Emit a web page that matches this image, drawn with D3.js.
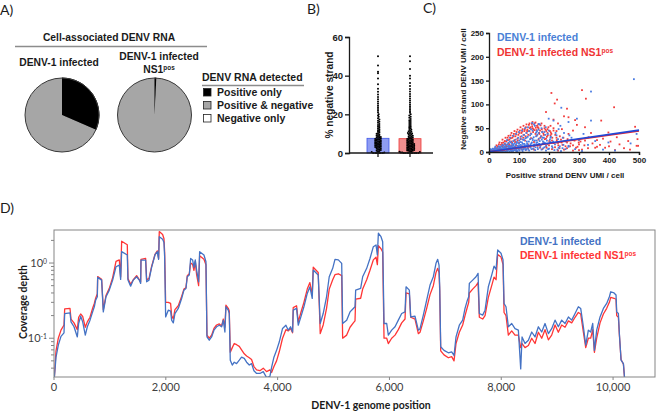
<!DOCTYPE html>
<html>
<head>
<meta charset="utf-8">
<script src="https://d3js.org/d3.v7.min.js"></script>
<style>
  body { margin: 0; background: #fff; }
  svg { display: block; font-family: "Liberation Sans", Arial, sans-serif; }
  .bold { font-weight: bold; }
  .cal { font-family: Lato, "Open Sans", sans-serif; }
</style>
</head>
<body>
<div class="fig"></div>
<script>
// ---------- data ----------
// A) share of cells by DENV RNA detected (%)
const rnaClasses = ["Positive only", "Positive & negative", "Negative only"];
const pieInfected = [31.5, 68.5, 0];
const pieNS1 = [0.8, 99.2, 0];

// B) % negative strand per cell
const barMeans = [7.6, 7.4];
const pctNegInfected = [0, 0, 0, 0, 0, 0, 0, 0.3, 0.5, 0.8, 1, 1.2, 1.5, 1.7, 2, 2.2, 2.4, 2.6, 2.8, 3, 3.1, 3.3, 3.5, 3.6, 3.8, 4, 4.1, 4.3, 4.5, 4.6, 4.8, 5,
  5.1, 5.3, 5.4, 5.6, 5.8, 5.9, 6.1, 6.3, 6.4, 6.6, 6.8, 7, 7.1, 7.3, 7.5, 7.7, 7.9, 8.1, 8.3, 8.5, 8.8, 9, 9.3, 9.6, 9.9,
  10.2, 10.6, 11, 11.4, 11.8, 12.2, 12.7, 13.1, 13.6, 14, 14.5, 15, 15.6, 16.1, 16.7, 17.3, 18, 18.7, 19.4,
  20.1, 21, 21.8, 22.7, 23.6, 24.6, 25.6, 26.7, 27.8, 29, 30.3, 31.7, 33.2, 35.5, 38.5, 41.2, 42, 45.3, 50];
const pctNegNS1 = [0, 0, 0, 0, 0, 0, 0, 0, 0, 0, 0.2, 0.3, 0.5, 0.6, 0.8, 0.9, 1.1, 1.2, 1.3, 1.5, 1.6, 1.7, 1.9, 2, 2.1, 2.3, 2.4, 2.5, 2.7, 2.8, 2.9,
  3.1, 3.2, 3.3, 3.5, 3.6, 3.8, 3.9, 4, 4.2, 4.3, 4.5, 4.6, 4.7, 4.9,
  5, 5.2, 5.3, 5.5, 5.7, 5.8, 6, 6.2, 6.3, 6.5, 6.7, 6.9, 7, 7.2, 7.4, 7.6, 7.8, 8, 8.2, 8.4, 8.6, 8.9, 9.1, 9.4, 9.7, 9.9,
  10.1, 10.4, 10.7, 11, 11.3, 11.7, 12, 12.4, 12.8, 13.2, 13.6, 14, 14.5, 15, 15.5, 16, 16.5, 17, 17.6, 18.2, 18.8, 19.4,
  20, 20.8, 21.6, 22.4, 23.3, 24.2, 25.1, 26.1, 27.1, 28.2, 29.3, 30.5, 31.8, 33.1, 34.6, 36.2, 38.5, 40, 43.5, 47.5, 50];

// C) positive vs negative strand UMI per cell
const umiInfected = [[2,0],[4,1],[6,0],[8,2],[10,1],[12,0],[14,3],[16,1],[18,2],[20,4],[22,0],[24,2],[26,5],[28,1],[30,3],[32,6],[34,2],[36,0],[38,4],[40,7],
  [42,2],[44,5],[46,1],[48,8],[50,3],[52,6],[54,0],[56,9],[58,4],[60,2],[62,7],[64,11],[66,5],[68,1],[70,8],[72,3],[74,12],[76,6],[78,10],[80,2],
  [82,14],[84,7],[86,4],[88,11],[90,16],[92,1],[94,9],[96,13],[98,5],[100,18],[102,3],[104,10],[106,15],[108,7],[110,20],[112,2],[114,12],[116,6],
  [118,17],[120,9],[122,4],[124,14],[126,22],[128,8],[130,11],[134,3],[138,16],[142,6],[146,25],[150,12],[154,4],[158,19],[162,9],[166,28],[170,14],
  [175,5],[180,22],[185,10],[190,3],[195,17],[200,7],[205,30],[210,12],[218,4],[225,20],[232,9],[240,2],[248,15],[255,6],[265,11],
  [5,3],[9,5],[13,2],[17,6],[21,8],[25,3],[29,9],[33,4],[37,10],[41,12],[45,9],[49,13],[53,11],[57,14],[61,16],[65,19],[69,13],[73,20],[77,17],
  [81,23],[85,18],[89,26],[93,21],[97,30],[101,24],[105,28],[109,33],[113,26],[117,36],[121,29],[125,40],[129,32],[133,44],[137,27],[141,38],
  [145,45],[149,31],[153,55],[157,41],[161,36],[165,47],[169,58],[173,33],[177,42],[183,30],[189,52],[196,38],[203,26],
  [3,1],[7,2],[11,3],[15,0],[19,5],[23,1],[27,4],[31,0],[35,7],[39,2],[43,6],[47,3],[51,9],[55,1],[59,7],[63,3],[67,10],[71,5],[75,2],[79,13],
  [83,4],[87,9],[91,6],[95,2],[99,11],[103,7],[107,12],[111,4],[115,9],[119,14],[123,6],[127,18],[131,5],[135,13],[139,9],[143,20],[147,7],
  [151,16],[155,10],[159,24],[163,6],[167,17],[171,11],[176,26],[181,8],[186,19],[191,13],[197,6],[204,21],[212,9],[220,16],[228,5],[236,12],[245,8],
  [5,6],[9,1],[13,7],[17,3],[21,11],[25,6],[29,2],[33,12],[37,7],[41,3],[45,15],[49,5],[53,18],[57,8],[61,4],[65,13],[69,22],[73,9],[77,4],
  [81,16],[85,11],[89,3],[93,19],[97,8],[101,14],[105,21],[109,10],[113,17],[117,25],[121,12],[125,30],[129,15],[133,22],[137,35],[141,18],
  [145,28],[149,14],[153,24],[157,33],[161,20],[165,40],[169,23],[173,15],[178,30],[183,20],[188,36],[193,24],[199,45],[206,32],[214,22],
  [222,40],[230,27],[238,55],[246,30],[256,22],[268,35],
  [60,25],[70,30],[80,34],[90,38],[100,42],[110,45],[120,50],[130,52],[140,48],[150,58],[160,44],[175,50],[185,42],
  [483,153],[340,127],[241,93],[265,63],[293,70],[340,66],[315,38],[354,23],[398,20],[472,18],[492,38],[199,70],[215,66],[232,48],[265,13],
  [287,6],[166,59],[144,61],[310,2],[380,5],[420,3],[275,30],[300,25],[250,40],[225,35],[330,15]];
const umiNS1 = [[10,2],[15,5],[20,3],[25,8],[30,6],[35,10],[40,4],[45,12],[50,8],[55,15],[60,6],[65,18],[70,11],[75,22],[80,9],[85,25],[90,14],
  [95,28],[100,19],[105,32],[110,12],[115,36],[120,24],[125,40],[130,16],[135,44],[140,29],[145,50],[150,21],[155,38],[160,55],[165,26],[170,45],
  [175,33],[180,18],[185,50],[190,28],[195,40],[200,14],[205,35],[210,24],[215,45],[220,10],[225,30],[230,19],[235,8],[240,26],[245,15],[250,5],
  [260,20],[270,12],[280,3],[290,9],[300,16],
  [58,22],[62,30],[68,26],[72,35],[78,30],[83,38],[88,33],[92,42],[98,36],[103,45],[108,40],[112,48],[118,44],[123,52],[128,47],[133,57],[138,52],
  [143,59],[148,48],[152,60],[158,46],[163,52],[168,38],[172,56],[178,43],[183,36],[188,47],[193,32],[198,52],[203,44],[208,38],
  [40,15],[48,20],[52,17],[60,12],[66,8],[74,14],[86,6],[94,10],[102,7],[116,9],[124,5],[136,11],[148,7],[162,13],[178,6],[192,9],
  [20,8],[28,12],[33,16],[38,9],[43,19],[47,14],[53,23],[57,11],[63,25],[67,16],[73,29],[77,19],[82,33],[87,21],[91,37],[96,24],[101,40],
  [106,27],[111,43],[114,30],[119,47],[122,33],[127,44],[131,36],[136,50],[139,39],[144,54],[147,42],[151,46],[156,51],[159,34],[164,58],
  [167,40],[171,30],[176,48],[181,39],[186,27],[191,44],[196,35],[201,23],[206,41],[211,30],[216,19],[221,36],[226,25],[231,14],[236,33],
  [242,20],[248,30],[255,12],[262,27],[272,18],[285,24],[295,11],[305,22],[318,14],[330,8],
  [25,14],[35,20],[45,26],[55,30],[65,34],[75,40],[85,44],[95,47],[105,52],[115,55],[125,58],[135,60],[145,63],[155,62],[165,50],[175,60],
  [185,55],[195,48],[205,55],[215,50],[225,44],
  [30,4],[50,5],[70,7],[90,4],[110,6],[130,8],[150,5],[170,9],[190,12],[210,6],[230,3],[260,8],[280,14],[300,4],[320,24],[345,18],[360,11],
  [380,28],[405,22],[435,16],[470,5],[495,27],
  [208,124],[310,130],[323,112],[227,110],[219,102],[190,84],[417,94],[265,73],[260,91],[287,67],[293,57],[320,52],[374,66],[398,41],[426,31],
  [464,23],[487,53],[492,13],[497,13],[354,9],[370,15],[387,9],[420,4],[332,31],[299,20],[265,38],[243,48],[230,60],[250,75],[215,68],[280,45],
  [340,40],[360,25],[400,12],[450,8],[310,5]];
const fitInfected = [[0, 0.5], [500, 46]];
const fitNS1 = [[0, 0.3], [500, 44]];

// D) coverage depth along the DENV-1 genome
const genomePos = [6, 36, 77, 125, 179, 191, 286, 304, 358, 417, 441, 477, 513, 560, 596, 644, 691, 721, 745, 775, 781, 852, 882, 930, 989,
  1049, 1109, 1168, 1192, 1210, 1311, 1323, 1371, 1418, 1478, 1526, 1550, 1556, 1639, 1657, 1699, 1746, 1806, 1848, 1871, 1883, 1943, 1967, 1979, 1997,
  2044, 2086, 2104, 2134, 2163, 2223, 2283, 2324, 2360, 2384, 2420, 2444, 2479, 2503, 2527, 2551, 2587, 2605, 2682, 2718, 2736, 2777, 2819, 2861,
  2908, 2956, 2998, 3028, 3057, 3075, 3117, 3135, 3153, 3189, 3224, 3266, 3314, 3355, 3403, 3445, 3493, 3534, 3576, 3624, 3683, 3743, 3802, 3862,
  3892, 3934, 3981, 4029, 4088, 4148, 4190, 4232, 4267, 4279, 4339, 4369, 4416, 4470, 4530, 4577, 4619, 4637, 4726, 4762, 4815, 4875, 4923, 4985,
  5026, 5086, 5146, 5163, 5235, 5295, 5354, 5384, 5396, 5485, 5521, 5593, 5652, 5712, 5760, 5784, 5802, 5849, 5879, 5903, 5951, 5980, 6040, 6100,
  6159, 6219, 6279, 6297, 6356, 6380, 6457, 6517, 6547, 6606, 6666, 6726, 6785, 6833, 6863, 6887, 6899, 6917, 6976, 7054, 7113, 7155, 7191, 7250,
  7310, 7352, 7394, 7418, 7429, 7489, 7549, 7585, 7608, 7668, 7710, 7769, 7829, 7871, 7907, 7936, 7996, 8032, 8050, 8085, 8127, 8187, 8246, 8306,
  8348, 8372, 8425, 8485, 8545, 8604, 8664, 8724, 8783, 8843, 8902, 8962, 9021, 9081, 9141, 9201, 9260, 9320, 9379, 9421, 9469, 9511, 9558, 9600,
  9636, 9666, 9707, 9767, 9827, 9886, 9934, 9958, 10017, 10053, 10065, 10095, 10113, 10143, 10185, 10208];
const depthInfected = [0.030, 0.056, 0.081, 0.106, 0.118, 0.213, 0.218, 0.165, 0.142, 0.104, 0.157, 0.196, 0.165, 0.110, 0.142, 0.174, 0.224, 0.262, 0.321, 0.356, 0.644, 0.593, 0.224, 0.356, 0.436,
  0.593, 0.893, 0.940, 0.605, 1.416, 1.280, 0.593, 0.493, 0.593, 0.657, 0.593, 0.536, 1.096, 1.096, 0.564, 0.593, 0.875, 1.280, 1.416, 1.120, 2.240, 2.070, 1.870, 1.210, 0.192,
  0.236, 0.230, 0.174, 0.160, 0.213, 0.249, 0.338, 0.436, 0.459, 0.657, 0.692, 1.150, 1.100, 0.875, 1.100, 0.807, 0.564, 1.416, 1.280, 1.040, 0.104, 0.094, 0.104, 0.128,
  0.142, 0.149, 0.142, 0.174, 0.121, 0.262, 0.236, 0.213, 0.051, 0.044, 0.048, 0.046, 0.051, 0.056, 0.054, 0.048, 0.044, 0.046, 0.037, 0.034, 0.034, 0.036, 0.030, 0.031,
  0.041, 0.056, 0.069, 0.089, 0.135, 0.149, 0.128, 0.142, 0.121, 0.236, 0.249, 0.149, 0.192, 0.262, 0.394, 0.483, 0.338, 0.807, 0.692, 0.157, 0.213, 0.356, 0.657, 0.850,
  1.120, 1.100, 0.990, 0.157, 0.174, 0.224, 0.249, 0.262, 0.436, 0.459, 0.657, 0.850, 1.150, 1.650, 1.740, 1.280, 2.490, 2.240, 1.920, 0.157, 0.157, 0.110, 0.128, 0.142,
  0.174, 0.213, 0.224, 0.483, 0.436, 0.192, 0.196, 0.128, 0.134, 0.203, 0.321, 0.510, 0.657, 0.990, 1.120, 0.940, 0.483, 0.077, 0.069, 0.064, 0.066, 0.059, 0.104, 0.149,
  0.174, 0.249, 0.321, 0.356, 0.536, 0.593, 0.657, 0.730, 0.213, 0.203, 0.236, 0.483, 0.692, 0.910, 0.820, 1.490, 1.350, 1.100, 0.290, 0.262, 0.142, 0.157, 0.134, 0.128,
  0.039, 0.104, 0.085, 0.094, 0.121, 0.104, 0.142, 0.121, 0.157, 0.115, 0.134, 0.174, 0.142, 0.174, 0.157, 0.192, 0.174, 0.213, 0.262, 0.249, 0.142, 0.081, 0.128, 0.121,
  0.157, 0.069, 0.128, 0.192, 0.249, 0.290, 0.356, 0.415, 0.400, 0.375, 0.224, 0.213, 0.115, 0.051, 0.046, 0.028];
const depthNS1 = [0.030, 0.068, 0.100, 0.128, 0.150, 0.245, 0.250, 0.180, 0.160, 0.130, 0.190, 0.210, 0.195, 0.140, 0.165, 0.190, 0.250, 0.290, 0.340, 0.390, 0.660, 0.610, 0.240, 0.370, 0.460,
  0.640, 1.050, 1.100, 0.650, 1.950, 1.750, 0.620, 0.520, 0.600, 0.680, 0.600, 0.560, 1.120, 1.150, 0.600, 0.620, 0.900, 1.300, 1.450, 1.150, 2.620, 2.400, 2.100, 1.400, 0.300,
  0.300, 0.290, 0.200, 0.180, 0.240, 0.270, 0.360, 0.450, 0.470, 0.680, 0.720, 1.000, 0.960, 0.800, 1.050, 0.700, 0.500, 1.250, 1.120, 0.950, 0.110, 0.100, 0.110, 0.135,
  0.150, 0.155, 0.145, 0.180, 0.140, 0.275, 0.250, 0.230, 0.065, 0.075, 0.085, 0.082, 0.078, 0.070, 0.062, 0.058, 0.055, 0.052, 0.042, 0.038, 0.037, 0.040, 0.036, 0.038,
  0.035, 0.042, 0.050, 0.066, 0.100, 0.130, 0.125, 0.135, 0.118, 0.255, 0.270, 0.165, 0.220, 0.300, 0.450, 0.550, 0.380, 0.880, 0.750, 0.115, 0.150, 0.250, 0.450, 0.600,
  0.700, 0.720, 0.680, 0.100, 0.110, 0.140, 0.160, 0.170, 0.330, 0.340, 0.450, 0.600, 0.800, 1.100, 1.200, 0.950, 1.700, 1.550, 1.400, 0.100, 0.100, 0.085, 0.100, 0.110,
  0.130, 0.160, 0.180, 0.400, 0.390, 0.190, 0.180, 0.115, 0.120, 0.170, 0.250, 0.380, 0.500, 0.750, 0.850, 0.750, 0.430, 0.068, 0.060, 0.055, 0.057, 0.050, 0.085, 0.120,
  0.150, 0.200, 0.260, 0.300, 0.400, 0.450, 0.500, 0.550, 0.190, 0.180, 0.200, 0.350, 0.500, 0.650, 0.600, 1.300, 1.200, 0.950, 0.220, 0.200, 0.110, 0.125, 0.110, 0.110,
  0.075, 0.085, 0.075, 0.080, 0.100, 0.085, 0.120, 0.100, 0.130, 0.095, 0.110, 0.150, 0.120, 0.150, 0.140, 0.170, 0.160, 0.190, 0.220, 0.210, 0.120, 0.075, 0.100, 0.100,
  0.130, 0.065, 0.100, 0.160, 0.210, 0.250, 0.300, 0.350, 0.340, 0.330, 0.200, 0.190, 0.110, 0.052, 0.045, 0.028];

// ---------- canvas ----------
const W = 657, H = 411;
const svg = d3.select(".fig").append("svg").attr("width", W).attr("height", H);
svg.append("rect").attr("width", W).attr("height", H).attr("fill", "#fff");

const ink = "#1a1a1a";
function panelLabel(txt, x, y) {
  svg.append("text").attr("class", "cal").attr("x", x).attr("y", y)
    .style("font-size", "14px").attr("fill", ink).text(txt);
}
panelLabel("A)", 0, 15);
panelLabel("B)", 307, 14);
panelLabel("C)", 423, 13);
panelLabel("D)", 0, 213);

// superscript helper
function withSup(sel, base, sup) {
  sel.append("tspan").text(base);
  sel.append("tspan").attr("dy", "-0.45em").style("font-size", "0.62em").text(sup);
}

// ---------- A) pies ----------
const pieColors = ["#000000", "#a6a6a6", "#ffffff"];
const pie = d3.pie().sort(null);
const arc = d3.arc().innerRadius(0).outerRadius(37);

const gA = svg.append("g").attr("class", "bold").attr("fill", ink).style("font-size", "10.3px");
gA.append("text").attr("x", 109).attr("y", 41).attr("text-anchor", "middle").text("Cell-associated DENV RNA");
gA.append("line").attr("x1", 15).attr("x2", 207).attr("y1", 46.5).attr("y2", 46.5)
  .attr("stroke", "#8c8c8c").attr("stroke-width", 1.5);
gA.append("text").attr("x", 59).attr("y", 66).attr("text-anchor", "middle").text("DENV-1 infected");
gA.append("text").attr("x", 159).attr("y", 60).attr("text-anchor", "middle").text("DENV-1 infected");
withSup(gA.append("text").attr("x", 159).attr("y", 73).attr("text-anchor", "middle"), "NS1", "pos");

[[pieInfected, 62], [pieNS1, 154.5]].forEach(([vals, cx]) => {
  const g = svg.append("g").attr("transform", `translate(${cx},115)`);
  g.selectAll("path").data(pie(vals)).enter().append("path")
    .attr("d", arc).attr("fill", (d, i) => pieColors[i])
    .attr("stroke", (d, i) => (i === 0 ? "#000" : "none"));
  g.append("circle").attr("r", 37).attr("fill", "none").attr("stroke", "#3a3a3a").attr("stroke-width", 1);
});

// legend
const gL = svg.append("g").attr("class", "bold").attr("fill", ink).style("font-size", "10.5px");
gL.append("text").attr("x", 202).attr("y", 81).text("DENV RNA detected");
gL.append("line").attr("x1", 202).attr("x2", 304).attr("y1", 85.5).attr("y2", 85.5)
  .attr("stroke", "#8c8c8c").attr("stroke-width", 1.5);
rnaClasses.forEach((c, i) => {
  const y = 92 + i * 13;
  gL.append("rect").attr("x", 203.5).attr("y", y - 3.5).attr("width", 7.5).attr("height", 7.5)
    .attr("fill", pieColors[i]).attr("stroke", "#222").attr("stroke-width", 0.8);
  gL.append("text").attr("x", 217).attr("y", y + 4).text(c);
});

// ---------- B) % negative strand ----------
const yB = d3.scaleLinear().domain([0, 60]).range([153, 37]);
const groupX = [378, 410];
const barFill = ["#8e9cf2", "#f29090"];
const barEdge = ["#3d56e8", "#ee3535"];

const gB = svg.append("g").attr("class", "bold").style("font-size", "9.5px");
gB.append("g").attr("transform", "translate(349,0)")
  .call(d3.axisLeft(yB).tickValues([0, 20, 40, 60]).tickSize(4).tickPadding(2))
  .call(g => g.selectAll("text").attr("fill", ink).style("font-size", "9.5px").style("font-family", "Liberation Sans, Arial").style("font-weight", "bold"))
  .call(g => g.selectAll("line,path").attr("stroke", ink).attr("stroke-width", 1.3));

barMeans.forEach((m, i) => {
  gB.append("rect").attr("x", groupX[i] - 11).attr("width", 22)
    .attr("y", yB(m)).attr("height", yB(0) - yB(m))
    .attr("fill", barFill[i]).attr("stroke", barEdge[i]).attr("stroke-width", 0.8);
});

// simple beeswarm placement of the per-cell values
function swarm(values, cx) {
  const placed = [];
  const minD = 1.4;
  values.slice().sort((a, b) => a - b).forEach(v => {
    const y = yB(v);
    for (let k = 0; k < 200; k++) {
      const dx = (k % 2 ? 1 : -1) * Math.ceil(k / 2) * 0.7;
      if (placed.every(p => (p.x - dx) ** 2 + (p.y - y) ** 2 >= minD * minD)) {
        placed.push({ x: dx, y });
        break;
      }
    }
  });
  return placed.map(p => ({ x: cx + p.x, y: p.y }));
}
[pctNegInfected, pctNegNS1].forEach((vals, i) => {
  gB.append("g").selectAll("circle").data(swarm(vals, groupX[i])).enter().append("circle")
    .attr("cx", d => d.x).attr("cy", d => d.y).attr("r", 1).attr("fill", "#000");
});

gB.append("line").attr("x1", 349).attr("x2", 433).attr("y1", 153).attr("y2", 153).attr("stroke", ink).attr("stroke-width", 1.3);
groupX.forEach(x => gB.append("line").attr("x1", x).attr("x2", x).attr("y1", 153).attr("y2", 157).attr("stroke", ink).attr("stroke-width", 1.3));
gB.append("text").attr("transform", "translate(333,95) rotate(-90)").attr("text-anchor", "middle")
  .attr("fill", ink).style("font-size", "10.2px").text("% negative strand");

// ---------- C) scatter ----------
const xC = d3.scaleLinear().domain([0, 500]).range([489, 639]);
const yC = d3.scaleLinear().domain([0, 250]).range([152, 33]);
const scatColor = ["#4b7ce2", "#f23c3c"];
const fitColor = ["#2148d6", "#e8222a"];

const gC = svg.append("g");
gC.append("g").selectAll("rect").data(umiNS1).enter().append("rect")
  .attr("x", d => xC(d[0]) - 0.9).attr("y", d => yC(d[1]) - 0.9).attr("width", 1.8).attr("height", 1.8)
  .attr("fill", scatColor[1]);
gC.append("g").selectAll("rect").data(umiInfected).enter().append("rect")
  .attr("x", d => xC(d[0]) - 0.9).attr("y", d => yC(d[1]) - 0.9).attr("width", 1.8).attr("height", 1.8)
  .attr("fill", scatColor[0]);

const fitLine = d3.line().x(d => xC(d[0])).y(d => yC(d[1]));
gC.append("path").datum(fitNS1).attr("d", fitLine).attr("stroke", fitColor[1]).attr("stroke-width", 1.6).attr("fill", "none");
gC.append("path").datum(fitInfected).attr("d", fitLine).attr("stroke", fitColor[0]).attr("stroke-width", 1.6).attr("fill", "none");

const styleAxC = g => g
  .call(s => s.selectAll("text").attr("fill", ink).style("font-size", "8px").style("font-family", "Liberation Sans, Arial").style("font-weight", "bold"))
  .call(s => s.selectAll("line,path").attr("stroke", ink).attr("stroke-width", 1.3));
gC.append("g").attr("transform", "translate(489,0)")
  .call(d3.axisLeft(yC).tickValues([0, 50, 100, 150, 200, 250]).tickSize(3).tickPadding(2)).call(styleAxC);
gC.append("g").attr("transform", "translate(0,152)")
  .call(d3.axisBottom(xC).tickValues([0, 100, 200, 300, 400, 500]).tickSize(3).tickPadding(2)).call(styleAxC);

const gCt = gC.append("g").attr("class", "bold").attr("fill", ink).style("font-size", "8px");
gCt.append("text").attr("x", 565).attr("y", 178).attr("text-anchor", "middle").text("Positive strand DENV UMI / cell");
gCt.append("text").attr("transform", "translate(466,89) rotate(-90)").attr("text-anchor", "middle").text("Negative strand DENV UMI / cell");

const gCl = gC.append("g").attr("class", "bold").style("font-size", "10.5px");
gCl.append("text").attr("x", 497).attr("y", 41).attr("fill", "#4a7fd6").text("DENV-1 infected");
withSup(gCl.append("text").attr("x", 497).attr("y", 56).attr("fill", "#ef3434"), "DENV-1 infected NS1", "pos");

// ---------- D) coverage ----------
const xD = d3.scaleLinear().domain([0, 10750]).range([54, 655]);
const yD = d3.scaleLog().domain([0.0305, 2.75]).range([377, 230]);
const covColor = ["#4472c4", "#ff3535"];

const gD = svg.append("g");
gD.append("defs").append("clipPath").attr("id", "clipD")
  .append("rect").attr("x", 54).attr("y", 230).attr("width", 601).attr("height", 147);

const covLine = (vals) => d3.line().x((d, i) => xD(genomePos[i])).y(d => yD(d))(vals);
gD.append("g").attr("clip-path", "url(#clipD)").selectAll("path")
  .data([depthNS1, depthInfected]).enter().append("path")
  .attr("d", d => covLine(d)).attr("fill", "none")
  .attr("stroke", (d, i) => (i === 0 ? covColor[1] : covColor[0]))
  .attr("stroke-width", 1.3).attr("stroke-linejoin", "round");

gD.append("rect").attr("x", 54).attr("y", 230).attr("width", 601).attr("height", 147)
  .attr("fill", "none").attr("stroke", "#858585").attr("stroke-width", 1);

// log y ticks
const yTicks = yD.ticks().filter(t => t >= 0.0305 && t <= 2.75);
gD.append("g").selectAll("line").data(yTicks).enter().append("line")
  .attr("x1", 54).attr("x2", d => (d === 0.1 || d === 1 ? 49 : 51))
  .attr("y1", d => yD(d)).attr("y2", d => yD(d)).attr("stroke", "#858585");
[[1, "0"], [0.1, "-1"]].forEach(([v, e]) => {
  const t = gD.append("text").attr("class", "cal").attr("x", 47).attr("y", yD(v) + 4)
    .attr("text-anchor", "end").attr("fill", "#404040").style("font-size", "11px");
  withSup(t, "10", e);
});

// x ticks
const xTicks = [0, 2000, 4000, 6000, 8000, 10000];
gD.append("g").selectAll("line").data(xTicks).enter().append("line")
  .attr("x1", d => xD(d)).attr("x2", d => xD(d)).attr("y1", 377).attr("y2", 380).attr("stroke", "#858585");
gD.append("g").selectAll("text").data(xTicks).enter().append("text")
  .attr("class", "cal").attr("x", d => xD(d)).attr("y", 391).attr("text-anchor", "middle")
  .attr("fill", "#404040").style("font-size", "11px").text(d3.format(","));

gD.append("text").attr("class", "cal bold").attr("x", 371).attr("y", 409).attr("text-anchor", "middle")
  .attr("fill", ink).style("font-size", "10.5px").text("DENV-1 genome position");
gD.append("text").attr("class", "cal bold").attr("transform", "translate(27,302) rotate(-90)")
  .attr("text-anchor", "middle").attr("fill", ink).style("font-size", "10.5px").text("Coverage depth");

const gDl = gD.append("g").attr("class", "bold").style("font-size", "10.5px");
gDl.append("text").attr("x", 520).attr("y", 245).attr("fill", covColor[0]).text("DENV-1 infected");
withSup(gDl.append("text").attr("x", 520).attr("y", 259).attr("fill", covColor[1]), "DENV-1 infected NS1", "pos");
</script>
</body>
</html>
